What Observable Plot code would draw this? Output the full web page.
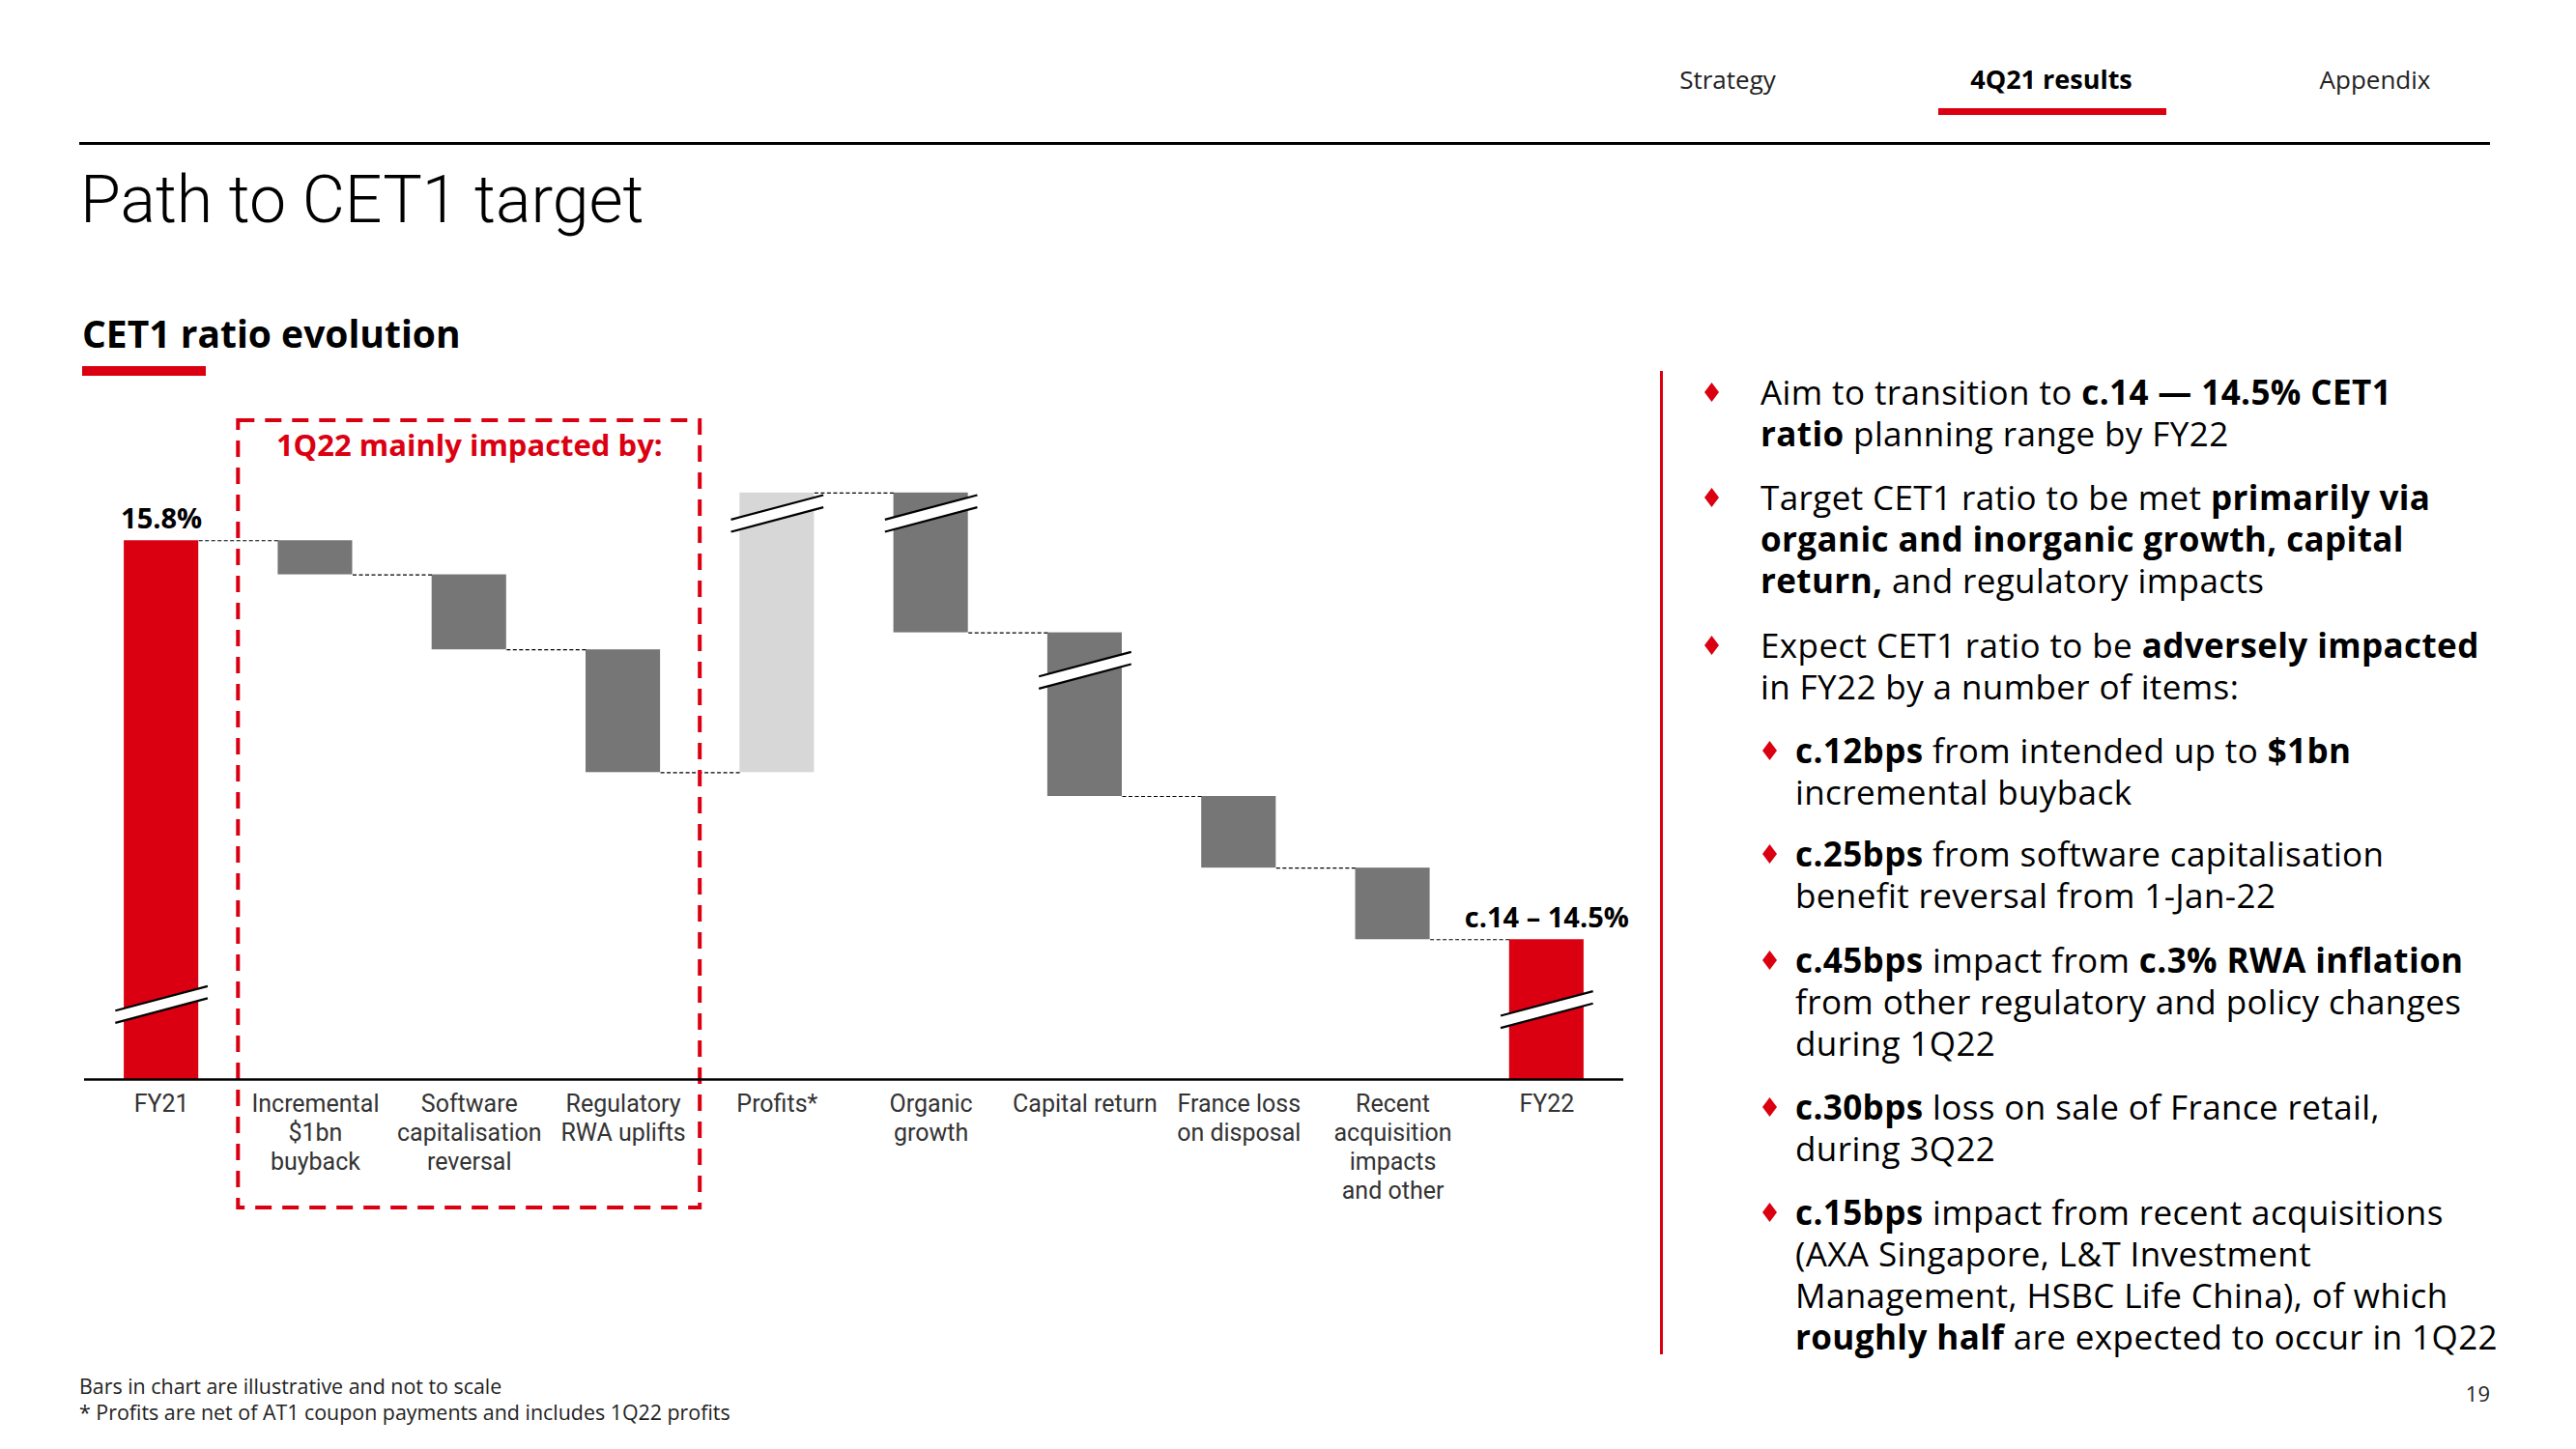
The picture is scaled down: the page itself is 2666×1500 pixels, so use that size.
<!DOCTYPE html>
<html><head><meta charset="utf-8">
<script src="https://cdn.jsdelivr.net/npm/d3@7"></script>
<script src="https://cdn.jsdelivr.net/npm/@observablehq/plot@0.6"></script>
<style>
html,body{margin:0;padding:0;background:#fff;}
body{width:2666px;height:1500px;position:relative;overflow:hidden;font-family:"Open Sans","Liberation Sans",sans-serif;color:#000;}
.abs{position:absolute;white-space:nowrap;}
.nav{font-size:26px;line-height:26px;top:69px;transform:translateX(-50%);color:#222;}
.bul{position:absolute;left:1822px;font-size:35px;letter-spacing:0.4px;line-height:43px;white-space:nowrap;font-weight:400;}
.sub{left:1858px;}
.dia{position:absolute;width:15px;height:20px;background:#DB0011;clip-path:polygon(50% 0,100% 50%,50% 100%,0 50%);}
b{font-weight:700;}
.foot{position:absolute;left:82px;font-size:21.4px;line-height:26px;color:#222;white-space:nowrap;}
</style></head>
<body>
<div class="abs nav" style="left:1788px">Strategy</div>
<div class="abs nav" style="left:2123px;font-weight:700;font-size:27px;color:#000">4Q21 results</div>
<div class="abs nav" style="left:2458px">Appendix</div>
<div class="abs" style="left:2006px;top:112px;width:236px;height:7px;background:#DB0011"></div>
<div class="abs" style="left:82px;top:147px;width:2495px;height:3px;background:#000"></div>
<div class="abs" style="left:83px;top:172px;font-family:Roboto,sans-serif;font-size:68px;line-height:70px;font-weight:300">Path to CET1 target</div>
<div class="abs" style="left:85px;top:325px;font-size:39px;line-height:39px;font-weight:700">CET1 ratio evolution</div>
<div class="abs" style="left:85px;top:379px;width:128px;height:10px;background:#DB0011"></div>
<div class="abs" style="left:1718px;top:384px;width:3px;height:1018px;background:#DB0011"></div>

<div id="chart" class="abs" style="left:0;top:400px"></div>

<div class="dia" style="left:1764px;top:396px"></div>
<div class="bul" style="top:384px">Aim to transition to <b>c.14 — 14.5% CET1<br>ratio</b> planning range by FY22</div>
<div class="dia" style="left:1764px;top:505px"></div>
<div class="bul" style="top:493px">Target CET1 ratio to be met <b>primarily via<br>organic and inorganic growth, capital<br>return,</b> and regulatory impacts</div>
<div class="dia" style="left:1764px;top:658px"></div>
<div class="bul" style="top:646px">Expect CET1 ratio to be <b>adversely impacted</b><br>in FY22 by a number of items:</div>
<div class="dia" style="left:1824px;top:767px"></div>
<div class="bul sub" style="top:755px"><b>c.12bps</b> from intended up to <b>$1bn</b><br>incremental buyback</div>
<div class="dia" style="left:1824px;top:874px"></div>
<div class="bul sub" style="top:862px"><b>c.25bps</b> from software capitalisation<br>benefit reversal from 1-Jan-22</div>
<div class="dia" style="left:1824px;top:984px"></div>
<div class="bul sub" style="top:972px"><b>c.45bps</b> impact from <b>c.3% RWA inflation</b><br>from other regulatory and policy changes<br>during 1Q22</div>
<div class="dia" style="left:1824px;top:1136px"></div>
<div class="bul sub" style="top:1124px"><b>c.30bps</b> loss on sale of France retail,<br>during 3Q22</div>
<div class="dia" style="left:1824px;top:1245px"></div>
<div class="bul sub" style="top:1233px"><b>c.15bps</b> impact from recent acquisitions<br>(AXA Singapore, L&amp;T Investment<br>Management, HSBC Life China), of which<br><b>roughly half</b> are expected to occur in 1Q22</div>

<div class="foot" style="top:1422px">Bars in chart are illustrative and not to scale</div>
<div class="foot" style="top:1449px">* Profits are net of AT1 coupon payments and includes 1Q22 profits</div>
<div class="abs" style="left:2577px;top:1429px;transform:translateX(-100%);font-size:22px;line-height:26px;color:#222">19</div>

<script>
const red = "#DB0011", dark = "#767676", light = "#D7D7D7";

// Categories (x-axis labels)
const categories = [
  "FY21",
  "Incremental\n$1bn\nbuyback",
  "Software\ncapitalisation\nreversal",
  "Regulatory\nRWA uplifts",
  "Profits*",
  "Organic\ngrowth",
  "Capital return",
  "France loss\non disposal",
  "Recent\nacquisition\nimpacts\nand other",
  "FY22"
];
// Bar type: total bars start at zero; change bars float
const kinds = ["total","change","change","change","change","change","change","change","change","total"];
// Illustrative bar heights (chart is not to scale)
const changes = [15.8, -1.0, -2.2, -3.6, 8.2, -4.1, -4.8, -2.1, -2.1, 0];
// Value labels
const valueLabels = ["15.8%","","","","","","","","","c.14 – 14.5%"];
// Axis-break marks (illustrative level on the bar)
const breakLevels = [2.2, null, null, null, 16.6, 16.6, 12.0, null, null, 2.05];
// Highlighted group
const boxTitle = "1Q22 mainly impacted by:";
const boxItems = [1, 3];

let level = 0;
const rows = categories.map((c, i) => {
  let start, end;
  if (kinds[i] === "total") { start = 0; end = i === 0 ? changes[i] : level; }
  else { start = level; end = level + changes[i]; }
  level = end;
  const fill = kinds[i] === "total" ? red : (changes[i] > 0 ? light : dark);
  return {i, c, start, end, fill};
});
const breakRows = rows.filter(d => breakLevels[d.i] != null).map(d => ({i: d.i, y: breakLevels[d.i]}));
const hw = 0.242;
const boldFont = "'Open Sans', 'Liberation Sans', sans-serif";

const chart = Plot.plot({
  width: 1700, height: 900,
  marginLeft: 87, marginRight: 20, marginTop: 11, marginBottom: 183,
  x: {domain: [-0.5, 9.5], axis: null},
  y: {domain: [0, 20], axis: null},
  color: {type: "identity"},
  style: {fontFamily: "Roboto, 'Liberation Sans', sans-serif", overflow: "visible", background: "transparent"},
  marks: [
    Plot.rect(rows, {x1: d => d.i - hw, x2: d => d.i + hw, y1: "start", y2: "end", fill: "fill"}),
    Plot.link(breakRows, {x1: d => d.i - 0.30, x2: d => d.i + 0.30, y1: d => d.y - 0.36, y2: d => d.y + 0.36, stroke: "#fff", strokeWidth: 12}),
    Plot.link(breakRows, {x1: d => d.i - 0.30, x2: d => d.i + 0.30, y1: d => d.y - 0.36, y2: d => d.y + 0.36, stroke: "#000", strokeWidth: 2.2, dy: -6.3}),
    Plot.link(breakRows, {x1: d => d.i - 0.30, x2: d => d.i + 0.30, y1: d => d.y - 0.36, y2: d => d.y + 0.36, stroke: "#000", strokeWidth: 2.2, dy: 6.3}),
    Plot.link(rows.slice(0, -1), {x1: d => d.i + hw, x2: d => d.i + 1 - hw, y1: "end", y2: "end", stroke: "#000", strokeWidth: 1.2, strokeDasharray: "4,2.5"}),
    Plot.rect([boxItems], {x1: d => d[0] - 0.5, x2: d => d[1] + 0.5, y1: -3.77, y2: 19.32, fill: "none", stroke: red, strokeWidth: 4, strokeDasharray: "17,11"}),
    Plot.ruleY([0], {stroke: "#000", strokeWidth: 2.5}),
    Plot.text(rows.filter(d => valueLabels[d.i]), {x: "i", y: "end", text: d => valueLabels[d.i], dy: -22, fontSize: 29, fontWeight: 700, fontFamily: boldFont, fill: "#000", style: "letter-spacing:0.4px"}),
    Plot.text([boxTitle], {x: (boxItems[0] + boxItems[1]) / 2, y: 19.32, text: d => d, dy: 27, fontSize: 31, fontWeight: 700, fontFamily: boldFont, fill: red}),
    Plot.axisX(d3.range(categories.length), {tickFormat: i => categories[i], tickSize: 0, tickPadding: 12, fontSize: 25, lineHeight: 1.2, fill: "#333", label: null})
  ]
});
document.getElementById("chart").appendChild(chart);
</script>
</body></html>
